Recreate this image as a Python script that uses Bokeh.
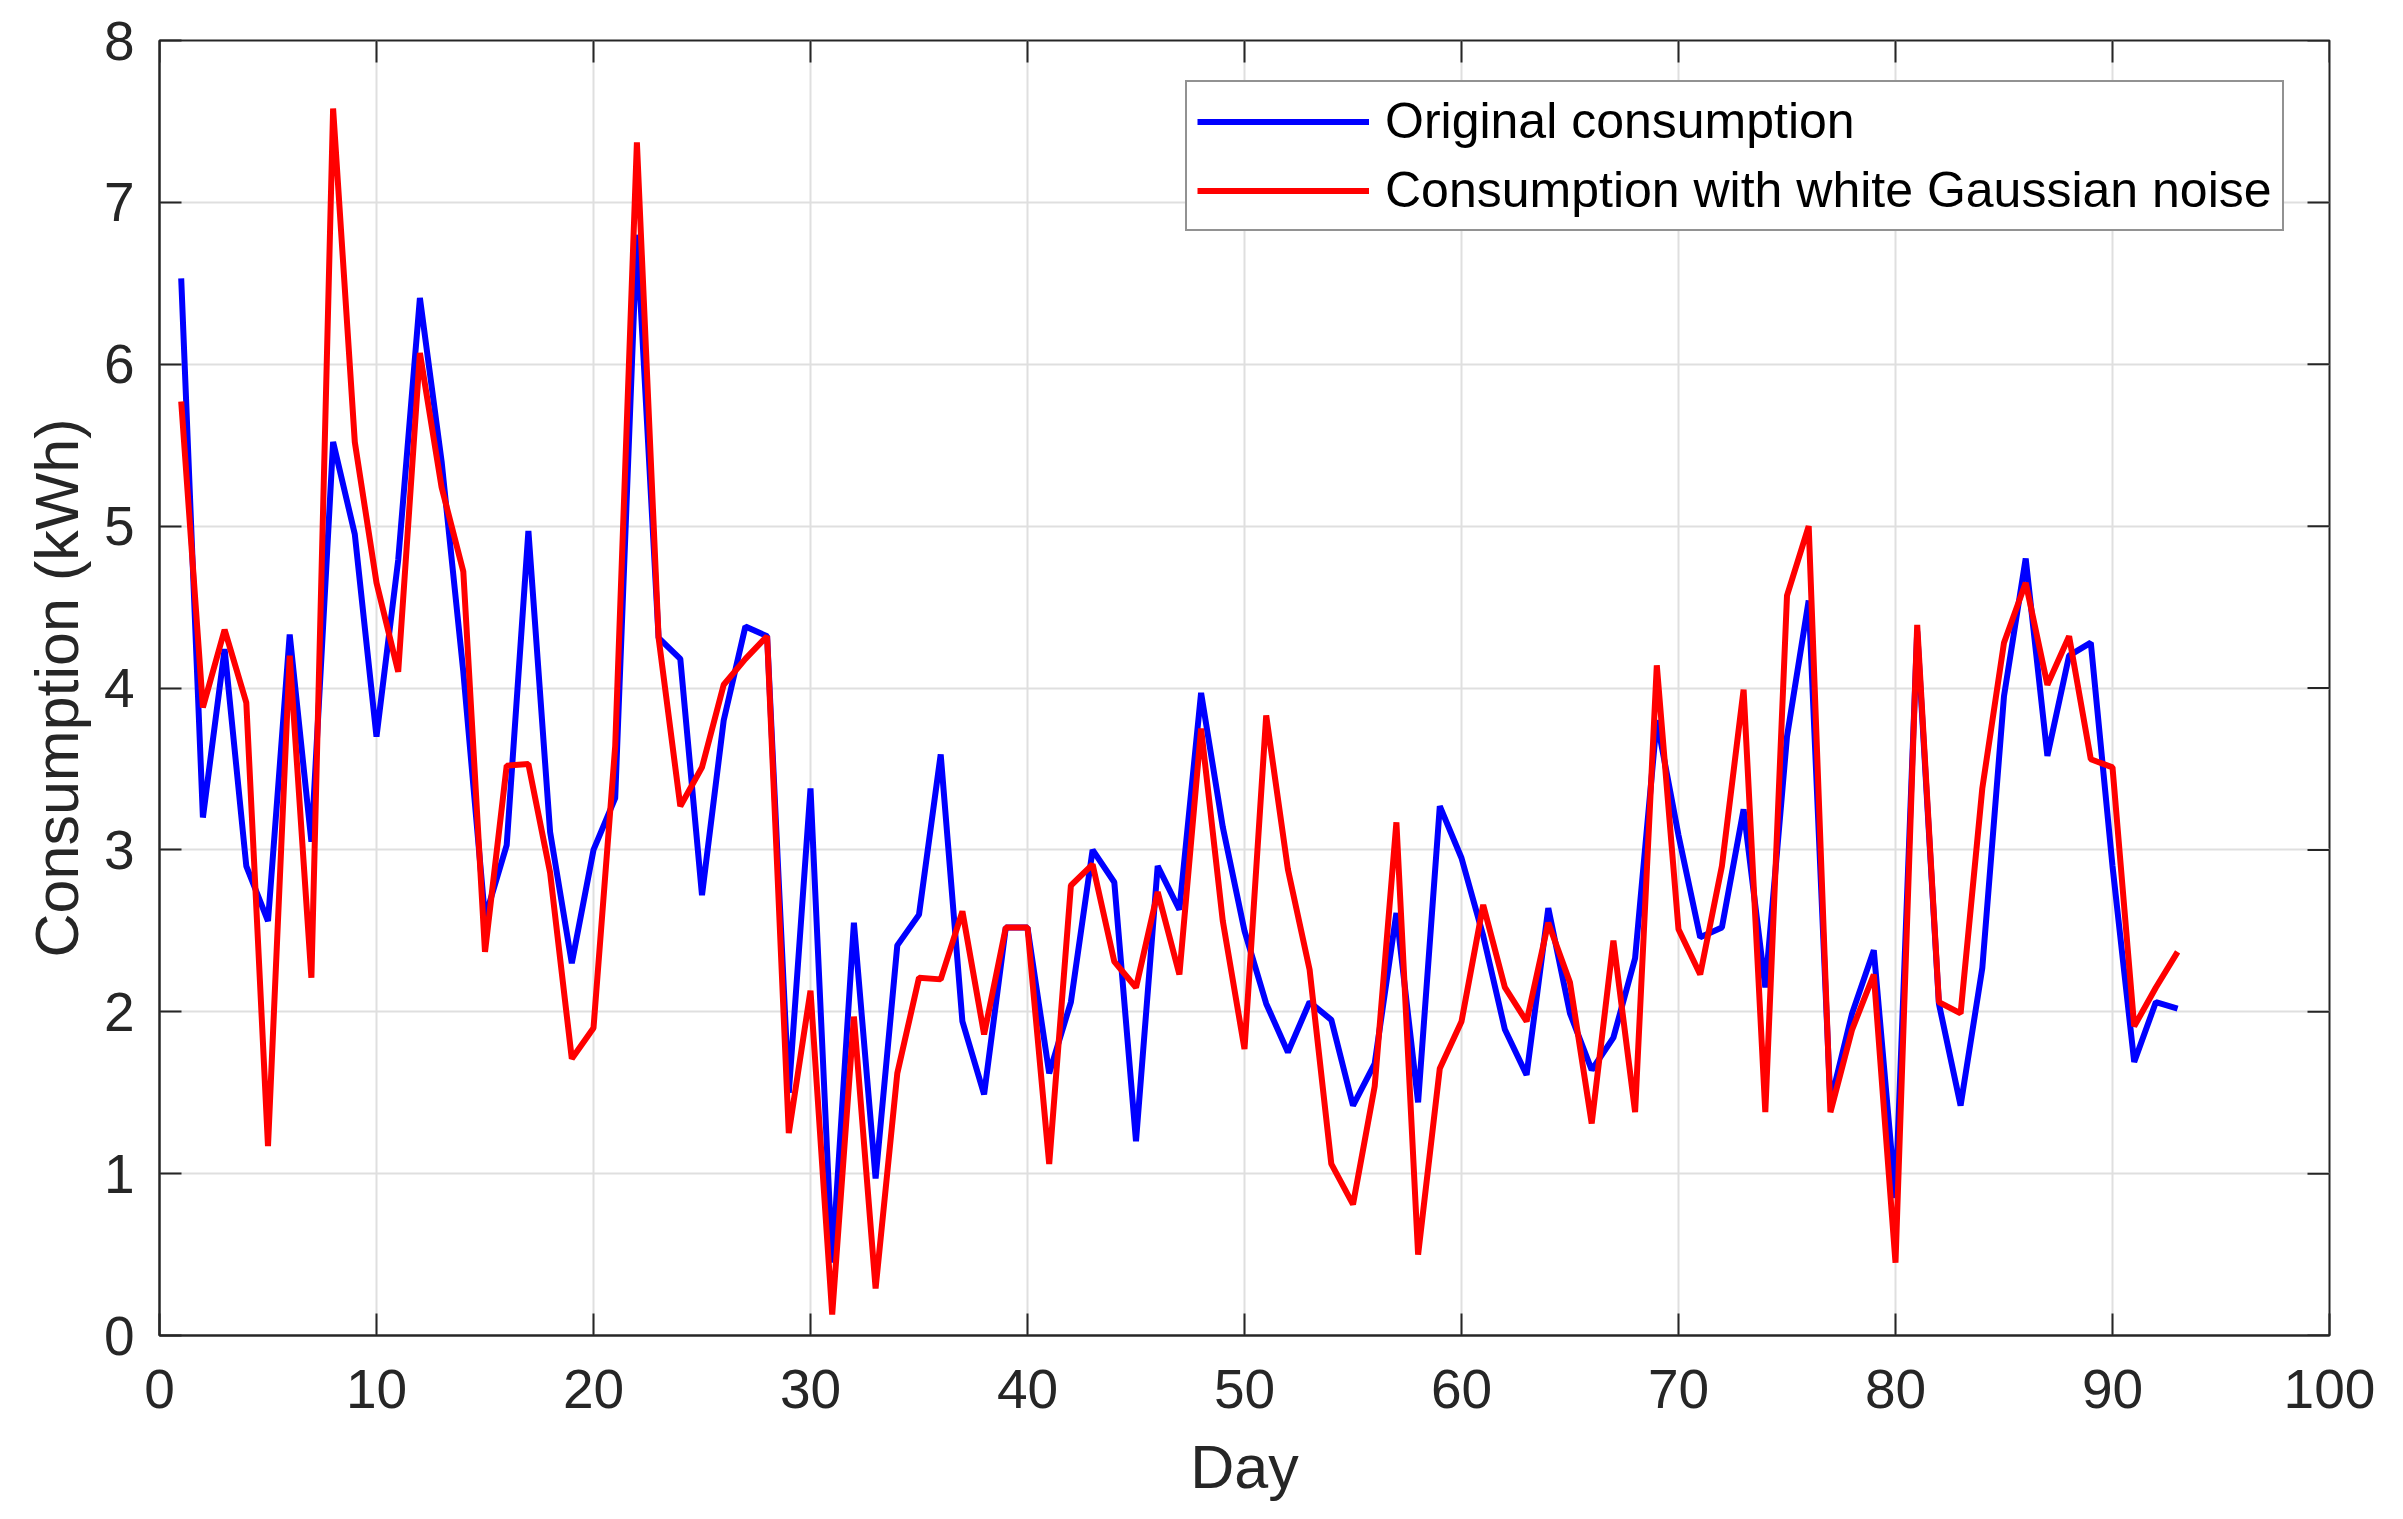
import math
from bokeh.plotting import figure
from bokeh.models import LinearAxis, Range1d, FixedTicker, Legend, LegendItem
from bokeh.embed import file_html
from bokeh.resources import INLINE

days = list(range(1, 94))

original = [6.53, 3.20, 4.24, 2.90, 2.56, 4.33, 3.05, 5.52, 4.95, 3.70,
            4.79, 6.41, 5.40, 4.10, 2.58, 3.03, 4.97, 3.11, 2.30, 3.00,
            3.32, 6.80, 4.31, 4.18, 2.72, 3.80, 4.38, 4.32, 1.50, 3.38,
            0.45, 2.55, 0.97, 2.41, 2.60, 3.59, 1.94, 1.49, 2.52, 2.52,
            1.62, 2.06, 3.00, 2.80, 1.20, 2.90, 2.63, 3.97, 3.14, 2.50,
            2.05, 1.75, 2.06, 1.95, 1.42, 1.68, 2.61, 1.44, 3.27, 2.95,
            2.47, 1.89, 1.61, 2.64, 1.99, 1.64, 1.84, 2.33, 3.80, 3.09,
            2.46, 2.52, 3.25, 2.15, 3.70, 4.54, 1.44, 1.99, 2.38, 0.85,
            4.35, 2.05, 1.42, 2.27, 3.95, 4.80, 3.58, 4.20, 4.28, 2.90,
            1.69, 2.06, 2.02]

noisy = [5.77, 3.88, 4.36, 3.91, 1.17, 4.20, 2.21, 7.58, 5.52, 4.65,
         4.10, 6.07, 5.24, 4.72, 2.37, 3.52, 3.53, 2.86, 1.71, 1.90,
         3.64, 7.37, 4.31, 3.27, 3.51, 4.02, 4.18, 4.32, 1.25, 2.13,
         0.13, 1.97, 0.29, 1.62, 2.21, 2.20, 2.62, 1.86, 2.52, 2.52,
         1.06, 2.78, 2.91, 2.31, 2.15, 2.74, 2.23, 3.75, 2.56, 1.77,
         3.83, 2.88, 2.26, 1.06, 0.81, 1.54, 3.17, 0.50, 1.65, 1.94,
         2.66, 2.15, 1.94, 2.55, 2.18, 1.31, 2.44, 1.38, 4.14, 2.51,
         2.23, 2.90, 3.99, 1.38, 4.57, 5.00, 1.38, 1.89, 2.23, 0.45,
         4.39, 2.06, 1.99, 3.38, 4.28, 4.65, 4.02, 4.32, 3.56, 3.51,
         1.91, 2.15, 2.37]

x_ticks = list(range(0, 101, 10))
y_ticks = list(range(0, 9, 1))
x_min, x_max = 0, 100
y_min, y_max = 0, 8

FONT = "Liberation Sans"
AX = "#262626"

p = figure(width=2387, height=1503, output_backend="svg", toolbar_location=None,
           x_range=Range1d(x_min, x_max), y_range=Range1d(y_min, y_max),
           x_axis_location=None, y_axis_location=None,
           min_border_left=159, min_border_right=58, min_border_top=40,
           min_border_bottom=159)
p.background_fill_color = "white"
p.border_fill_color = "white"
p.outline_line_color = AX
p.outline_line_width = 2


def style_axis(ax, ticks):
    ax.ticker = FixedTicker(ticks=ticks)
    ax.axis_line_color = AX
    ax.axis_line_width = 2
    ax.major_tick_line_color = AX
    ax.major_tick_line_width = 2
    ax.major_tick_in = 22
    ax.major_tick_out = 0
    ax.minor_tick_line_color = None
    ax.major_label_text_font = FONT
    ax.major_label_text_color = AX
    ax.major_label_text_font_size = "55px"
    ax.axis_label_text_font = FONT
    ax.axis_label_text_color = AX
    ax.axis_label_text_font_style = "normal"
    ax.axis_label_text_font_size = "61px"


xb = LinearAxis(axis_label="Day")
yl = LinearAxis(axis_label="Consumption (kWh)")
style_axis(xb, x_ticks)
style_axis(yl, y_ticks)
xb.major_label_standoff = 34
xb.axis_label_standoff = 22
yl.major_label_standoff = 25
yl.axis_label_standoff = 10
p.add_layout(xb, "below")
p.add_layout(yl, "left")

p.xgrid.ticker = FixedTicker(ticks=x_ticks)
p.ygrid.ticker = FixedTicker(ticks=y_ticks)
for g in (p.xgrid, p.ygrid):
    g.grid_line_color = "#dfdfdf"
    g.grid_line_width = 2

# inward tick marks on the top and right edges of the box
p.ray(x=x_ticks, y=[y_max] * len(x_ticks), length=22, length_units="screen",
      angle=-math.pi / 2, line_color=AX, line_width=2)
p.ray(x=[x_max] * len(y_ticks), y=y_ticks, length=22, length_units="screen",
      angle=math.pi, line_color=AX, line_width=2)

r1 = p.line(days, original, line_color="#0000ff", line_width=6)
r2 = p.line(days, noisy, line_color="#ff0000", line_width=6)

legend = Legend(items=[LegendItem(label="Original consumption", renderers=[r1]),
                       LegendItem(label="Consumption with white Gaussian noise", renderers=[r2])],
                location=(1026, 1104))
legend.label_text_font = FONT
legend.label_text_font_size = "50px"
legend.label_text_color = "black"
legend.glyph_width = 172
legend.glyph_height = 47
legend.label_height = 47
legend.label_standoff = 16
legend.spacing = 11
legend.padding = 10
legend.margin = 0
legend.border_line_color = AX
legend.border_line_width = 2
legend.background_fill_color = "white"
legend.background_fill_alpha = 1
p.add_layout(legend, "center")

open("out.html", "w").write(file_html(p, INLINE))
